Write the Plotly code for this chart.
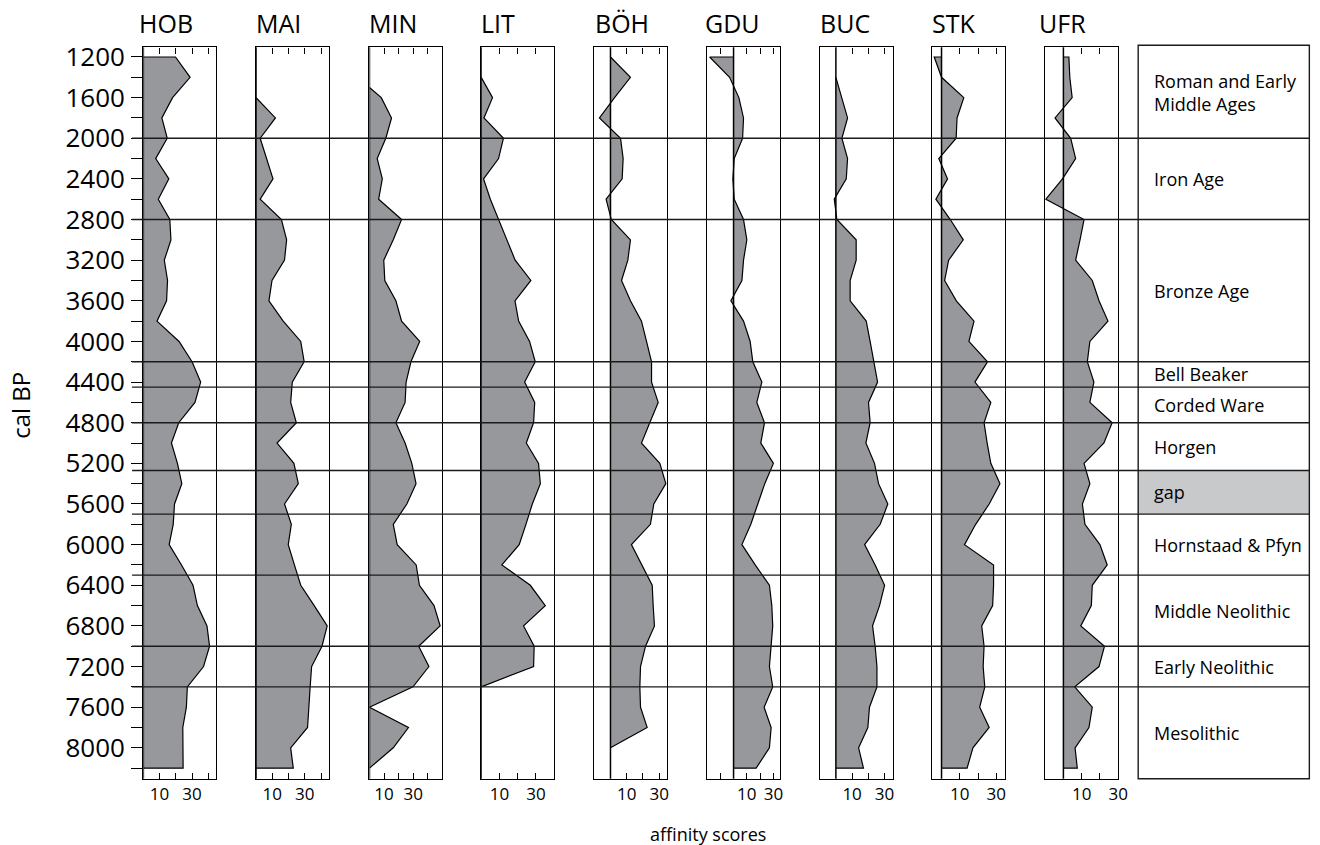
import plotly.graph_objects as go

# ---------------- data ----------------
SITES = ["HOB", "MAI", "MIN", "LIT", "BÖH", "GDU", "BUC", "STK", "UFR"]
YEARS = list(range(1200, 8201, 200))

HOB = [19.8, 28.8, 18, 11.4, 14.7, 7.6, 15.7, 9.2, 16.3, 17, 12.9, 14.9, 14.3, 8.4, 22, 30, 35.3, 31.8,
       21.8, 17.3, 21, 23.7, 19.2, 18.4, 15.9, 23.5, 30.6, 33.3, 39.2, 40.8, 37.1, 27.1, 26.5, 24.3, 24.3, 24.5]
MAI = [None, None, 0, 11.9, 2.5, 6.5, 10.4, 2.5, 15.6, 18.8, 17.5, 9.8, 7.9, 16.7, 27.5, 29.6, 22.3, 21.3,
       24.8, 12.9, 23.3, 26, 17.5, 21.7, 19.8, 23.6, 27.5, 35.8, 43.8, 40.6, 34.2, 33.3, 32.5, 31.7, 21.3, 22.9]
MIN = [None, None, 8.1, 15.1, 11.2, 5.3, 8.8, 6.3, 22, 16.3, 9.8, 10.5, 18.1, 22, 34.4, 28.4, 25.1, 24.4,
       18.1, 24.4, 29, 31.9, 25.6, 16.3, 19, 32, 34.2, 44.2, 48.4, 33.7, 40.7, 29.8, 0, 26.7, 16.3, 0]
LIT = [None, 0, 6.2, 1.5, 12.2, 9.5, 1.3, 5, 9.5, 14, 18.6, 27.2, 18.5, 20.5, 26.5, 29.6, 23.8, 29.3,
       28.7, 24.7, 31.4, 32.4, 28, 24.5, 20.8, 11.3, 26.9, 35.1, 23.2, 29, 28.7, 0, None, None, None, None]
BOH = [0, 12.3, 2.5, -6.8, 6.2, 7.8, 7.2, -2.7, 0.5, 12.3, 10.7, 6.8, 12.3, 19.1, 22.2, 25.3, 25.3, 29.4,
       24.2, 19.1, 30.4, 34.1, 26.7, 24.6, 12.9, 19.5, 25.7, 26.3, 27.1, 21.6, 18.5, 18.1, 18.5, 22.6, 0, None]
GDU = [-18, -3, 4, 7.5, 6.8, 0.5, -0.5, 0.5, 7.5, 10, 7.5, 6.3, -2, 7.5, 12.5, 14.5, 21.3, 17.5,
       23.3, 20.5, 30, 23.5, 18.5, 13, 6.3, 16.3, 27, 28.8, 29.5, 28.3, 27, 29.5, 23, 28.3, 27, 17]
BUC = [None, 0, 3.5, 7.2, 3.7, 7.2, 6.4, -1, 0.6, 12.5, 12.5, 8.8, 8.8, 18.7, 21.1, 23.2, 25.7, 20.1,
       21.1, 18.5, 23.8, 26.3, 32, 27.3, 17.7, 24.2, 30, 26.9, 22.6, 24.2, 25.3, 25.3, 20.7, 19.7, 14, 17]
STK = [-4, 0, 12.2, 8.5, 8, -1.5, 3.3, -3.1, 4.8, 11.9, 3.9, 1.7, 8.1, 17.8, 15, 25.2, 18.3, 27,
       23.3, 25, 27, 32, 26.1, 18.7, 12.6, 28.5, 28.5, 28, 22, 23.3, 22.8, 23.7, 20.9, 26.1, 17.2, 14]
UFR = [3, 3.5, 4.8, -4.6, 4, 6.7, -0.5, -9.6, 11.3, 9.1, 6.7, 15.8, 19.5, 24.4, 14.5, 13.1, 16.7, 14.5,
       26.7, 22.2, 11.3, 14.5, 10.4, 11.8, 20, 24, 15.8, 15.3, 9.5, 22.5, 19.5, 6.2, 15.8, 14, 6.4, 7.6]
SERIES = [HOB, MAI, MIN, LIT, BOH, GDU, BUC, STK, UFR]
ONSET = {"MIN": 1500}  # first year of record where the profile leaves zero

X_RANGES = [(0, 45), (0, 45), (0, 50), (0, 40), (-10, 35), (-20, 35), (-10, 35), (-5, 35), (-10, 30)]
X_TICKS = [[10, 20, 30, 40], [10, 20, 30, 40], [10, 20, 30, 40], [10, 20, 30], [10, 20, 30],
           [-10, 10, 20, 30], [10, 20, 30], [10, 20, 30], [10, 20, 30]]
X_LABELED = [10, 30]

Y_RANGE = (8305, 1105)
Y_TICKS = list(range(1200, 8201, 200))

PERIOD_BOUNDS = [1105, 2000, 2800, 4200, 4450, 4800, 5270, 5700, 6300, 7000, 7400, 8305]
PERIODS = ["Roman and Early<br>Middle Ages", "Iron Age", "Bronze Age", "Bell Beaker", "Corded Ware",
           "Horgen", "gap", "Hornstaad & Pfyn", "Middle Neolithic", "Early Neolithic", "Mesolithic"]
GAP_PERIOD = "gap"

# ---------------- layout constants (target picture pixels) ----------------
W, H = 1320, 845
FONT = "Open Sans"
FILL = "#97989c"
PANEL_LEFT = [143.3, 256, 369.3, 481, 594, 706.7, 819.3, 932, 1044.7]
TITLE_LEFT = [139.3, 256.7, 369.3, 481.7, 595, 705, 820, 932.7, 1039.3]
PANEL_W = 73
TOP_PX, BOT_PX = 47.7, 776.7
TABLE_L, TABLE_R, TABLE_T = 1137.7, 1318.7, 45.7
LINE_X0 = 132
LABEL_X = 1151.5
# capture calibration (page -> picture): x' = SX*x, y' = OY + SY*y
SX, SY, OY = 0.992, 0.986, 9.5


def px(x):
    return min((x / SX) / W, 0.9995)


def py(y):
    return 1 - ((y - OY) / SY) / H


fig = go.Figure()
layout = dict(
    width=W, height=H, margin=dict(l=0, r=0, t=0, b=0), autosize=False,
    paper_bgcolor="white", plot_bgcolor="rgba(0,0,0,0)", showlegend=False,
    font=dict(family=FONT, color="black"),
)
shapes = []
annotations = []

for i, (site, vals) in enumerate(zip(SITES, SERIES)):
    n = i + 1
    xa = "x" if n == 1 else f"x{n}"
    ya = "y" if n == 1 else f"y{n}"
    pts = [(v, yr) for v, yr in zip(vals, YEARS) if v is not None]
    first = ONSET.get(site, pts[0][1])
    xs = [0] + [p[0] for p in pts] + [0]
    ys = [first] + [p[1] for p in pts] + [pts[-1][1]]
    fig.add_trace(go.Scatter(
        x=xs, y=ys, xaxis=xa, yaxis=ya, mode="lines", fill="toself",
        fillcolor=FILL, line=dict(color="black", width=1.2), hoverinfo="skip",
    ))
    lo, hi = X_RANGES[i]
    layout["xaxis" if n == 1 else f"xaxis{n}"] = dict(
        domain=[px(PANEL_LEFT[i]), px(PANEL_LEFT[i] + PANEL_W)], range=[lo, hi],
        anchor=ya, showgrid=False, zeroline=False,
        showline=True, linecolor="black", linewidth=1.4, mirror="ticks",
        ticks="inside", ticklen=6, tickwidth=1.3, tickcolor="black",
        tickvals=X_TICKS[i], ticktext=[str(t) if t in X_LABELED else "" for t in X_TICKS[i]],
        tickfont=dict(size=17, family=FONT, color="black"), fixedrange=True,
    )
    ydict = dict(
        domain=[py(BOT_PX), py(TOP_PX)], range=list(Y_RANGE), anchor=xa,
        showgrid=False, zeroline=False, showline=True, linecolor="black",
        linewidth=1.4, mirror=True, fixedrange=True,
    )
    if n == 1:
        ydict.update(ticks="outside", ticklen=11, tickwidth=1.3, tickcolor="black",
                     tickvals=Y_TICKS,
                     ticktext=[str(t) if t % 400 == 0 else "" for t in Y_TICKS],
                     tickfont=dict(size=26, family=FONT, color="black"),
                     ticklabelstandoff=1)
    else:
        ydict.update(showticklabels=False, ticks="", matches="y")
    layout["yaxis" if n == 1 else f"yaxis{n}"] = ydict

    # zero baseline
    shapes.append(dict(type="line", xref=xa, yref=f"{ya} domain", x0=0, x1=0, y0=0, y1=1,
                       line=dict(color="black", width=1.5), layer="above"))
    # site title
    annotations.append(dict(text=site, xref="paper", yref="paper", x=px(TITLE_LEFT[i] - 2.7),
                            y=py(23), xanchor="left", yanchor="middle", showarrow=False,
                            font=dict(size=25, family=FONT, color="black")))

# gap row shading in table
gi = PERIODS.index(GAP_PERIOD)
shapes.append(dict(type="rect", xref="paper", yref="y", x0=px(TABLE_L), x1=px(TABLE_R),
                   y0=PERIOD_BOUNDS[gi], y1=PERIOD_BOUNDS[gi + 1],
                   fillcolor="#c8c9cb", line=dict(width=0), layer="below"))
# period boundary lines
for b in PERIOD_BOUNDS[1:-1]:
    shapes.append(dict(type="line", xref="paper", yref="y", x0=px(LINE_X0), x1=px(TABLE_R),
                       y0=b, y1=b, line=dict(color="#1a1a1a", width=1.4), layer="above"))
# table frame
shapes.append(dict(type="rect", xref="paper", yref="paper", x0=px(TABLE_L), x1=px(TABLE_R),
                   y0=py(BOT_PX), y1=py(TABLE_T), line=dict(color="#1a1a1a", width=1.4),
                   fillcolor="rgba(0,0,0,0)", layer="above"))
# period labels
for k, name in enumerate(PERIODS):
    mid = (PERIOD_BOUNDS[k] + PERIOD_BOUNDS[k + 1]) / 2
    annotations.append(dict(text=name, xref="paper", yref="y", x=px(LABEL_X), y=mid,
                            xanchor="left", yanchor="middle", align="left", showarrow=False,
                            font=dict(size=18, family=FONT, color="black")))

annotations.append(dict(text="cal BP", xref="paper", yref="paper", x=px(21), y=py(405),
                        textangle=-90, showarrow=False, xanchor="center", yanchor="middle",
                        font=dict(size=24, family=FONT, color="black")))
annotations.append(dict(text="affinity scores", xref="paper", yref="paper", x=px(708), y=py(832),
                        showarrow=False, xanchor="center", yanchor="middle",
                        font=dict(size=18, family=FONT, color="black")))

layout["shapes"] = shapes
layout["annotations"] = annotations
fig.update_layout(**layout)

PIN_PAGE = (
    "var h=document.documentElement, b=document.body;"
    "h.style.margin='0';h.style.padding='0';h.style.overflow='hidden';"
    "b.style.margin='0';b.style.padding='0';b.style.overflow='hidden';"
)
fig.write_html("out.html", config={"displayModeBar": False}, post_script=PIN_PAGE)
